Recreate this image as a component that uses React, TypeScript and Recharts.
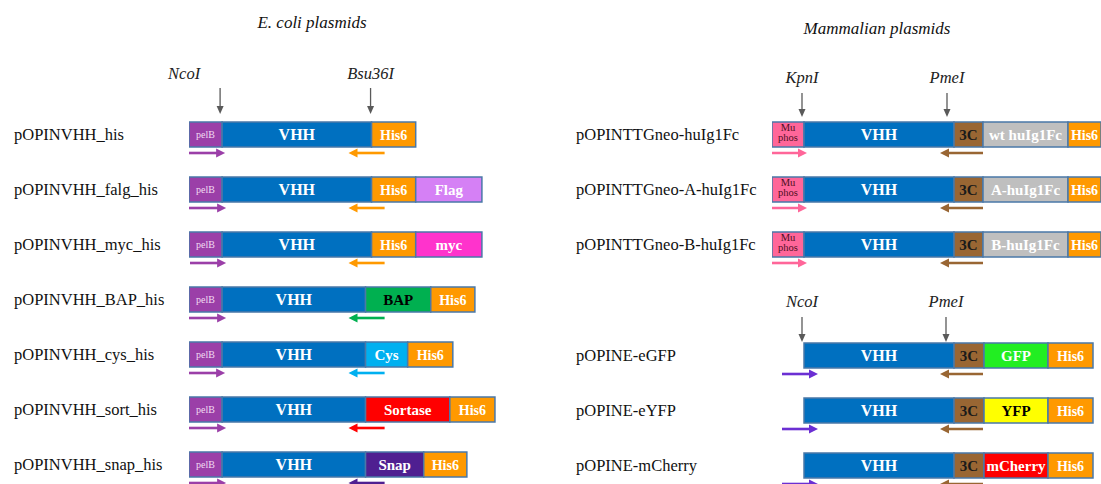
import React from 'react';
import { BarChart, Bar, XAxis, YAxis } from 'recharts';

// ---------------- data ----------------
// E. coli plasmids (left panel)
const leftRows = [
  'pOPINVHH_his',
  'pOPINVHH_falg_his',
  'pOPINVHH_myc_his',
  'pOPINVHH_BAP_his',
  'pOPINVHH_cys_his',
  'pOPINVHH_sort_his',
  'pOPINVHH_snap_his',
];
const leftSegments = [
  ['pelB', 'VHH', 'His6'],
  ['pelB', 'VHH', 'His6', 'Flag'],
  ['pelB', 'VHH', 'His6', 'myc'],
  ['pelB', 'VHH', 'BAP', 'His6'],
  ['pelB', 'VHH', 'Cys', 'His6'],
  ['pelB', 'VHH', 'Sortase', 'His6'],
  ['pelB', 'VHH', 'Snap', 'His6'],
];
const leftLengths = [
  [33, 149, 44],
  [33, 149, 44, 66],
  [33, 149, 44, 66],
  [33, 143, 65, 44],
  [33, 143, 42, 45],
  [33, 143, 84, 45],
  [33, 143, 58, 43],
];
const leftLead = [0, 0, 0, 0, 0, 0, 0];
const leftForward = [[0, 36], [0, 37], [1, 37], [0, 37], [0, 36], [0, 37], [0, 37]];
const leftReverse = [[159, 195], [159, 195], [159, 195], [159, 195], [159, 195], [159, 195], [159, 195]];
const leftSiteNames = ['NcoI', 'Bsu36I'];
const leftSitePos = [31, 181];

// Mammalian plasmids, Fc fusions (right top)
const fcRows = ['pOPINTTGneo-huIg1Fc', 'pOPINTTGneo-A-huIg1Fc', 'pOPINTTGneo-B-huIg1Fc'];
const fcSegments = [
  ['Mu phos', 'VHH', '3C', 'wt huIg1Fc', 'His6'],
  ['Mu phos', 'VHH', '3C', 'A-huIg1Fc', 'His6'],
  ['Mu phos', 'VHH', '3C', 'B-huIg1Fc', 'His6'],
];
const fcLengths = [
  [32, 150, 29, 85, 40],
  [32, 150, 29, 85, 40],
  [32, 150, 29, 85, 40],
];
const fcLead = [0, 0, 0];
const fcForward = [[0, 35], [0, 35], [0, 35]];
const fcReverse = [[168, 211], [168, 211], [168, 211]];
const fcSiteNames = ['KpnI', 'PmeI'];
const fcSitePos = [30, 175];

// Mammalian plasmids, pOPINE (right bottom)
const eRows = ['pOPINE-eGFP', 'pOPINE-eYFP', 'pOPINE-mCherry'];
const eSegments = [
  ['VHH', '3C', 'GFP', 'His6'],
  ['VHH', '3C', 'YFP', 'His6'],
  ['VHH', '3C', 'mCherry', 'His6'],
];
const eLengths = [
  [150, 30, 64, 45],
  [150, 30, 64, 45],
  [150, 30, 64, 45],
];
const eLead = [32, 32, 32];
const eForward = [[10, 46], [10, 46], [10, 46]];
const eReverse = [[168, 211], [168, 211], [168, 211]];
const eSiteNames = ['NcoI', 'PmeI'];
const eSitePos = [30, 174];

// ---------------- styles ----------------
const FONT = "'Liberation Serif','Times New Roman',serif";
const BAR_H = 25;
const PRIMER_H = 12;
const BORDER = '#4A78A8';

const segFill: Record<string, string> = {
  pelB: '#9B3FA8',
  VHH: '#0070C0',
  His6: '#FF9900',
  Flag: '#D580F5',
  myc: '#FF33CC',
  BAP: '#00B050',
  Cys: '#00B0F0',
  Sortase: '#FF0000',
  Snap: '#4F1F91',
  'Mu phos': '#FF6699',
  '3C': '#996633',
  'wt huIg1Fc': '#BFBFBF',
  'A-huIg1Fc': '#BFBFBF',
  'B-huIg1Fc': '#BFBFBF',
  GFP: '#22EE22',
  YFP: '#FFFF00',
  mCherry: '#FF0000',
};
const segText: Record<string, { size?: number; weight?: string; color?: string }> = {
  pelB: { size: 10, weight: 'normal', color: '#F2DDF2' },
  VHH: { size: 16 },
  His6: { size: 14 },
  BAP: { color: '#000' },
  YFP: { color: '#000' },
  '3C': { color: '#1A1A1A' },
};
// horizontal label shift (px) of each restriction-site label relative to its arrow
const leftSiteLabelShift = [-36, 0];
const rightSiteLabelShift = [0, 0];

// ---------------- helpers ----------------
function buildRows(names: string[], segs: string[][], lens: number[][], lead: number[], fwd: number[][], rev: number[][]) {
  return names.map((name, i) => {
    const row: any = { name, lead: lead[i] };
    for (let k = 0; k < 5; k++) {
      row['n' + k] = segs[i][k] ?? '';
      row['s' + k] = lens[i][k] ?? 0;
    }
    row.pg0 = fwd[i][0];
    row.pf = fwd[i][1] - fwd[i][0];
    row.pg1 = rev[i][0] - fwd[i][1];
    row.pr = rev[i][1] - rev[i][0];
    const vi = segs[i].indexOf('VHH');
    row.revColor = segFill[segs[i][vi + 1]];
    return row;
  });
}

const blank = () => <g />;

function segLabel(name: string, x: number, y: number, w: number, h: number) {
  const cx = x + w / 2;
  const cy = y + h / 2;
  if (name === 'Mu phos') {
    return (
      <text textAnchor="middle" fontFamily={FONT} fontSize={10.5} fill="#4D0F1E">
        <tspan x={cx} y={cy - 3.5}>Mu</tspan>
        <tspan x={cx} y={cy + 6.5}>phos</tspan>
      </text>
    );
  }
  const st = segText[name] || {};
  return (
    <text x={cx} y={cy} dy="0.37em" textAnchor="middle" fontFamily={FONT}
      fontWeight={st.weight ?? 'bold'} fontSize={st.size ?? 15} fill={st.color ?? '#fff'}>
      {name}
    </text>
  );
}

const segShape = (k: number) => (props: any) => {
  const { x, y, width, height, payload } = props;
  const nm = payload ? payload['n' + k] : '';
  if (!nm || !(width > 0)) return <g />;
  return (
    <g>
      <rect x={x} y={y} width={width} height={height} fill={segFill[nm] || '#999'} stroke={BORDER} strokeWidth={1.5} />
      {segLabel(nm, x, y, width, height)}
    </g>
  );
};

const arrowShape = (dir: number, colorOf: (p: any) => string) => (props: any) => {
  const { x, y, width, height, payload } = props;
  if (!(width > 0)) return <g />;
  const cy = y + height / 2;
  const col = colorOf(payload);
  const head = 9;
  const hw = 4.5;
  const x2 = x + width;
  if (dir > 0) {
    return (
      <g>
        <line x1={x} y1={cy} x2={x2 - head + 1} y2={cy} stroke={col} strokeWidth={2.6} />
        <polygon points={`${x2},${cy} ${x2 - head},${cy - hw} ${x2 - head},${cy + hw}`} fill={col} />
      </g>
    );
  }
  return (
    <g>
      <line x1={x + head - 1} y1={cy} x2={x2} y2={cy} stroke={col} strokeWidth={2.6} />
      <polygon points={`${x},${cy} ${x + head},${cy - hw} ${x + head},${cy + hw}`} fill={col} />
    </g>
  );
};

const siteTick = (names: string[], positions: number[], shifts: number[], geom: { label: number; top: number; tip: number }) => (props: any) => {
  const { x, y, payload } = props;
  const i = positions.indexOf(payload.value);
  const tipY = y + geom.tip;
  return (
    <g>
      <text x={x + (shifts[i] || 0)} y={y - geom.label} textAnchor="middle" fontFamily={FONT} fontStyle="italic" fontSize={16.5} fill="#222">
        {names[i]}
      </text>
      <line x1={x} y1={y - geom.top} x2={x} y2={tipY - 6} stroke="#5A5A5A" strokeWidth={1.3} />
      <polygon points={`${x - 3.5},${tipY - 8} ${x + 3.5},${tipY - 8} ${x},${tipY}`} fill="#5A5A5A" />
    </g>
  );
};

const nameTick = (labelX: number) => (props: any) => (
  <text x={labelX} y={props.y - PRIMER_H / 2} dy="0.36em" fontFamily={FONT} fontSize={16.5} fill="#111">
    {props.payload.value}
  </text>
);

function Panel(p: any) {
  const { data, left, top, width, height, axisH, yW, xMax, labelX, sites, siteNames, siteShift, geom, fwdColor } = p;
  return (
    <div style={{ position: 'absolute', left, top, width, height }}>
      <BarChart width={width} height={height} data={data} layout="vertical"
        margin={{ top: 0, right: 0, bottom: 0, left: 0 }} barGap={0} barCategoryGap={0}>
        <XAxis type="number" orientation="top" domain={[0, xMax]} allowDataOverflow ticks={sites} interval={0}
          height={axisH} axisLine={false} tickLine={false} tickSize={0} tickMargin={0}
          tick={siteTick(siteNames, sites, siteShift, geom)} />
        <YAxis type="category" dataKey="name" width={yW} axisLine={false} tickLine={false} interval={0}
          tick={nameTick(labelX)} />
        <Bar dataKey="lead" stackId="c" barSize={BAR_H} isAnimationActive={false} shape={blank} />
        {[0, 1, 2, 3, 4].map((k) => (
          <Bar key={k} dataKey={'s' + k} stackId="c" barSize={BAR_H} isAnimationActive={false} shape={segShape(k)} />
        ))}
        <Bar dataKey="pg0" stackId="p" barSize={PRIMER_H} isAnimationActive={false} shape={blank} />
        <Bar dataKey="pf" stackId="p" barSize={PRIMER_H} isAnimationActive={false} shape={arrowShape(1, () => fwdColor)} />
        <Bar dataKey="pg1" stackId="p" barSize={PRIMER_H} isAnimationActive={false} shape={blank} />
        <Bar dataKey="pr" stackId="p" barSize={PRIMER_H} isAnimationActive={false} shape={arrowShape(-1, (d) => d.revColor)} />
      </BarChart>
    </div>
  );
}

export default function App() {
  const leftData = buildRows(leftRows, leftSegments, leftLengths, leftLead, leftForward, leftReverse);
  const fcData = buildRows(fcRows, fcSegments, fcLengths, fcLead, fcForward, fcReverse);
  const eData = buildRows(eRows, eSegments, eLengths, eLead, eForward, eReverse);
  return (
    <div style={{ position: 'absolute', left: 0, top: 0, width: 1101, height: 484, overflow: 'hidden', background: '#fff' }}>
      <svg width={1101} height={60} style={{ position: 'absolute', left: 0, top: 0 }}>
        <text x={312} y={28} textAnchor="middle" fontFamily={FONT} fontStyle="italic" fontSize={17} fill="#111">E. coli plasmids</text>
        <text x={877} y={34} textAnchor="middle" fontFamily={FONT} fontStyle="italic" fontSize={17} fill="#111">Mammalian plasmids</text>
      </svg>
      <Panel data={leftData} left={0} top={0} width={510} height={498} axisH={113} yW={189} xMax={320}
        labelX={14} sites={leftSitePos} siteNames={leftSiteNames} siteShift={leftSiteLabelShift}
        geom={{ label: 34, top: 25, tip: 1 }} fwdColor={segFill.pelB} />
      <Panel data={fcData} left={560} top={0} width={541} height={278} axisH={113} yW={212} xMax={329}
        labelX={16} sites={fcSitePos} siteNames={fcSiteNames} siteShift={rightSiteLabelShift}
        geom={{ label: 30, top: 20, tip: 4 }} fwdColor={segFill['Mu phos']} />
      <Panel data={eData} left={560} top={250} width={541} height={249} axisH={84} yW={212} xMax={329}
        labelX={16} sites={eSitePos} siteNames={eSiteNames} siteShift={rightSiteLabelShift}
        geom={{ label: 27, top: 17, tip: 8 }} fwdColor="#6B2FD3" />
    </div>
  );
}
